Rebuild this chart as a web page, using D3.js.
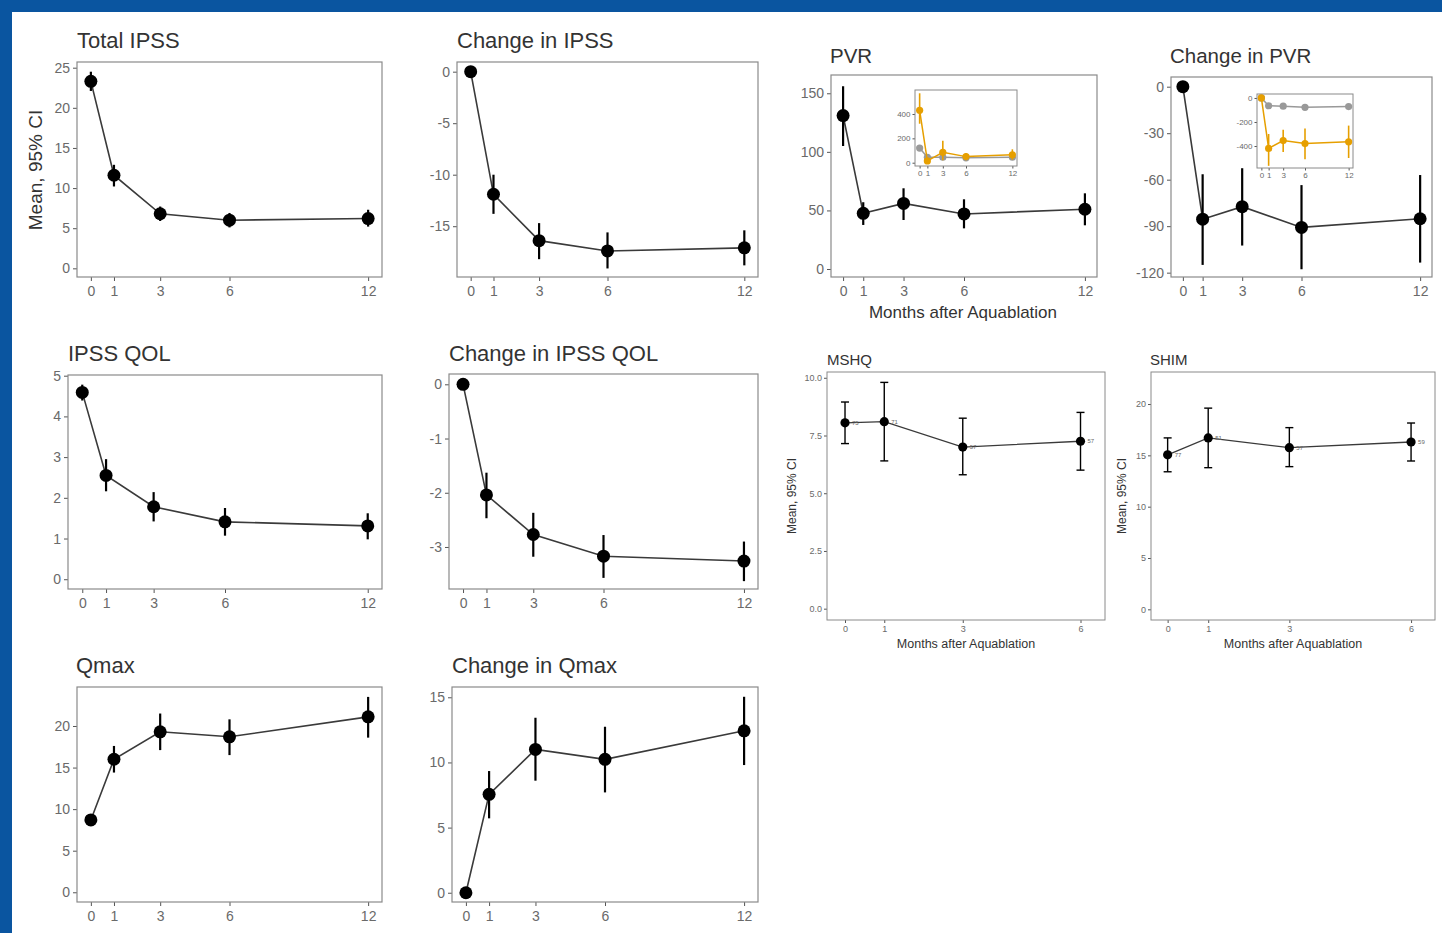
<!DOCTYPE html>
<html>
<head>
<meta charset="utf-8">
<script src="https://cdn.jsdelivr.net/npm/d3@7"></script>
<style>
  html, body { margin: 0; padding: 0; background: #fff; }
  svg { display: block; font-family: "Liberation Sans", Arial, Helvetica, sans-serif; }
</style>
</head>
<body>
<svg id="fig" width="1442" height="933"></svg>
<script>
// Follow-up visits, months after Aquablation
const months = [0, 1, 3, 6, 12];
const sexMonths = [0, 1, 3, 6];

// Total IPSS
const ipssMean = [23.3, 11.6, 6.8, 6.0, 6.2];
const ipssLow  = [22.1, 10.2, 5.9, 5.1, 5.2];
const ipssHigh = [24.5, 12.9, 7.7, 6.9, 7.3];

// Change in IPSS
const dIpssMean = [0, -11.9, -16.4, -17.4, -17.1];
const dIpssLow  = [0, -13.8, -18.2, -19.1, -18.8];
const dIpssHigh = [0, -10.0, -14.7, -15.6, -15.4];

// PVR
const pvrMean = [131, 47.5, 56, 47, 51];
const pvrLow  = [105, 37.6, 41.8, 34.7, 37.3];
const pvrHigh = [156, 57, 68.9, 59.5, 64.6];

// Change in PVR
const dPvrMean = [0, -85.5, -77.4, -90.8, -85.2];
const dPvrLow  = [0, -115, -102.5, -117.8, -113.5];
const dPvrHigh = [0, -56.5, -52.6, -63.5, -57];

// PVR by baseline subgroup (inset): grey and orange groups
const pvrGreyMean   = [120, 45, 45, 40, 45];
const pvrGreyLow    = [100, 35, 35, 30, 33];
const pvrGreyHigh   = [140, 55, 55, 50, 58];
const pvrOrangeMean = [430, 15, 85, 50, 65];
const pvrOrangeLow  = [320, -5, 20, 20, 25];
const pvrOrangeHigh = [570, 35, 180, 80, 110];

// Change in PVR by subgroup (inset)
const dPvrGreyMean   = [0, -65, -68, -78, -72];
const dPvrGreyLow    = [0, -80, -82, -92, -86];
const dPvrGreyHigh   = [0, -50, -54, -64, -58];
const dPvrOrangeMean = [0, -420, -355, -380, -365];
const dPvrOrangeLow  = [0, -565, -450, -510, -500];
const dPvrOrangeHigh = [0, -300, -265, -255, -230];

// IPSS QOL
const qolMean = [4.59, 2.55, 1.78, 1.41, 1.31];
const qolLow  = [4.39, 2.16, 1.42, 1.07, 0.98];
const qolHigh = [4.78, 2.95, 2.14, 1.75, 1.62];

// Change in IPSS QOL
const dQolMean = [0, -2.04, -2.77, -3.17, -3.26];
const dQolLow  = [0, -2.47, -3.18, -3.57, -3.63];
const dQolHigh = [0, -1.63, -2.37, -2.78, -2.90];

// Qmax
const qmaxMean = [8.7, 16.0, 19.3, 18.7, 21.1];
const qmaxLow  = [8.2, 14.4, 17.1, 16.5, 18.6];
const qmaxHigh = [9.2, 17.6, 21.5, 20.8, 23.5];

// Change in Qmax
const dQmaxMean = [0, 7.55, 11.0, 10.24, 12.43];
const dQmaxLow  = [0, 5.71, 8.6, 7.7, 9.8];
const dQmaxHigh = [0, 9.34, 13.43, 12.74, 15.04];

// MSHQ (ejaculatory function) and SHIM (erectile function)
const mshqMean = [8.05, 8.1, 7.0, 7.25];
const mshqLow  = [7.15, 6.4, 5.8, 6.0];
const mshqHigh = [8.95, 9.8, 8.25, 8.5];
const mshqN    = ["75", "71", "57", "57"];
const shimMean = [15.05, 16.7, 15.75, 16.3];
const shimLow  = [13.4, 13.8, 13.9, 14.45];
const shimHigh = [16.7, 19.6, 17.7, 18.15];
const shimN    = ["77", "51", "57", "59"];

// Tick labels
const ipssTicks = [0, 5, 10, 15, 20, 25];
const dIpssTicks = [0, -5, -10, -15];
const pvrTicks = [0, 50, 100, 150];
const dPvrTicks = [0, -30, -60, -90, -120];
const qolTicks = [0, 1, 2, 3, 4, 5];
const dQolTicks = [0, -1, -2, -3];
const qmaxTicks = [0, 5, 10, 15, 20];
const dQmaxTicks = [0, 5, 10, 15];
const mshqTicks = [0, 2.5, 5, 7.5, 10];
const shimTicks = [0, 5, 10, 15, 20];
const pvrInsetTicks = [0, 200, 400];
const dPvrInsetTicks = [0, -200, -400];

const X_LABEL = "Months after Aquablation";
const Y_LABEL = "Mean, 95% CI";
const GREY = "#999999", ORANGE = "#E69F00";

// plain hyphen-minus for negative tick labels
const intFmt = d => String(d);
const oneDecFmt = d => d.toFixed(1);

function series(xs, mean, lo, hi) {
  return xs.map((m, i) => ({ m, v: mean[i], lo: lo[i], hi: hi[i] }));
}

const svg = d3.select("#fig");

// Blue page frame
svg.append("rect").attr("x", 0).attr("y", 0).attr("width", 1442).attr("height", 12).attr("fill", "#0A55A0");
svg.append("rect").attr("x", 0).attr("y", 0).attr("width", 12).attr("height", 933).attr("fill", "#0A55A0");

const MAIN = { tickFont: 14, tickLen: 4, pad: 3, xpad: 5, r: 6.5, bar: 2.2, line: 1.6, titleFont: 22, border: 1.2 };
const SMALL = { tickFont: 9, tickLen: 3, pad: 2, xpad: 3, r: 4.6, bar: 1.4, line: 1.3, titleFont: 15, border: 1, cap: 8 };
const INSET = { tickFont: 8, tickLen: 2.5, pad: 2, xpad: 2, r: 3.6, bar: 1.6, line: 1.5, border: 1 };

function drawAxes(g, x, y, box, st, xTicks, yTicks, yFmt) {
  const ay = g.append("g").attr("transform", `translate(${box[0]},0)`)
    .call(d3.axisLeft(y).tickValues(yTicks).tickSize(st.tickLen).tickPadding(st.pad).tickFormat(yFmt));
  const ax = g.append("g").attr("transform", `translate(0,${box[3]})`)
    .call(d3.axisBottom(x).tickValues(xTicks).tickSize(st.tickLen).tickPadding(st.xpad).tickFormat(intFmt));
  [ay, ax].forEach(a => {
    a.attr("font-family", null).attr("font-size", st.tickFont);
    a.select(".domain").remove();
    a.selectAll(".tick line").attr("stroke", "#555").attr("stroke-width", 1);
    a.selectAll(".tick text").attr("fill", "#6a6a6a");
  });
  g.append("rect").attr("x", box[0]).attr("y", box[1])
    .attr("width", box[2] - box[0]).attr("height", box[3] - box[1])
    .attr("fill", "none").attr("stroke", "#8a8a8a").attr("stroke-width", st.border);
}

function drawSeries(g, x, y, data, st, color, lineColor, cap) {
  g.append("path").datum(data)
    .attr("fill", "none").attr("stroke", lineColor).attr("stroke-width", st.line)
    .attr("d", d3.line().x(d => x(d.m)).y(d => y(d.v)));
  const bars = g.append("g").attr("stroke", color).attr("stroke-width", st.bar);
  data.forEach(d => {
    if (d.hi === d.lo) return;
    bars.append("line").attr("x1", x(d.m)).attr("x2", x(d.m)).attr("y1", y(d.lo)).attr("y2", y(d.hi));
    if (cap) {
      [d.lo, d.hi].forEach(v => bars.append("line")
        .attr("x1", x(d.m) - cap / 2).attr("x2", x(d.m) + cap / 2).attr("y1", y(v)).attr("y2", y(v)));
    }
  });
  g.append("g").selectAll("circle").data(data).join("circle")
    .attr("cx", d => x(d.m)).attr("cy", d => y(d.v)).attr("r", st.r).attr("fill", color);
}

function panel(p) {
  const st = p.style;
  const g = svg.append("g");
  const box = p.box;
  const x = d3.scaleLinear().domain(p.xDomain).range([box[0], box[2]]);
  const y = d3.scaleLinear().domain(p.yDomain).range([box[3], box[1]]);
  drawAxes(g, x, y, box, st, p.xTicks, p.yTicks, p.yFmt || intFmt);

  if (p.inset) {
    const q = p.inset;
    const ib = q.box;
    const ix = d3.scaleLinear().domain(p.xDomain).range([ib[0], ib[2]]);
    const iy = d3.scaleLinear().domain(q.yDomain).range([ib[3], ib[1]]);
    const ig = g.append("g");
    drawAxes(ig, ix, iy, ib, INSET, p.xTicks, q.yTicks, intFmt);
    const clipId = "clip" + Math.round(ib[0]);
    ig.append("clipPath").attr("id", clipId).append("rect")
      .attr("x", ib[0]).attr("y", ib[1]).attr("width", ib[2] - ib[0]).attr("height", ib[3] - ib[1]);
    const inner = ig.append("g").attr("clip-path", `url(#${clipId})`);
    drawSeries(inner, ix, iy, q.grey, INSET, GREY, GREY);
    drawSeries(inner, ix, iy, q.orange, INSET, ORANGE, ORANGE);
  }

  drawSeries(g, x, y, p.data, st, "#000", "#3a3a3a", p.cap ? st.cap : 0);

  if (p.nLabels) {
    g.append("g").selectAll("text").data(p.data).join("text")
      .attr("x", d => x(d.m) + 7).attr("y", d => y(d.v) + 2)
      .attr("font-size", 6).attr("fill", "#666")
      .text((d, i) => p.nLabels[i]);
  }

  g.append("text").attr("x", p.titlePos[0]).attr("y", p.titlePos[1])
    .attr("font-size", p.titleFont || st.titleFont).attr("fill", "#333").text(p.title);

  if (p.xLabel) {
    g.append("text").attr("x", p.xLabel[0]).attr("y", p.xLabel[1]).attr("text-anchor", "middle")
      .attr("font-size", p.xLabel[2]).attr("fill", "#333").text(X_LABEL);
  }
  if (p.yLabel) {
    g.append("text").attr("transform", `translate(${p.yLabel[0]},${p.yLabel[1]}) rotate(-90)`)
      .attr("text-anchor", "middle").attr("font-size", p.yLabel[2]).attr("fill", "#333").text(Y_LABEL);
  }
}

const fullX = [-0.6, 12.6];

const panels = [
  { title: "Total IPSS", style: MAIN, box: [77, 62, 382, 277], titlePos: [77, 48],
    xDomain: fullX, yDomain: [-1.08, 25.71], xTicks: months, yTicks: ipssTicks,
    data: series(months, ipssMean, ipssLow, ipssHigh), yLabel: [42, 170, 19] },
  { title: "Change in IPSS", style: MAIN, box: [457, 62, 758, 277], titlePos: [457, 48],
    xDomain: fullX, yDomain: [-19.93, 0.94], xTicks: months, yTicks: dIpssTicks,
    data: series(months, dIpssMean, dIpssLow, dIpssHigh) },
  { title: "PVR", style: MAIN, titleFont: 20.5, box: [831, 75, 1097, 277], titlePos: [830, 63],
    xDomain: fullX, yDomain: [-6.83, 165.6], xTicks: months, yTicks: pvrTicks,
    data: series(months, pvrMean, pvrLow, pvrHigh), xLabel: [963, 318, 17],
    inset: { box: [915, 90, 1017, 166], yDomain: [-27, 597], yTicks: pvrInsetTicks,
      grey: series(months, pvrGreyMean, pvrGreyLow, pvrGreyHigh),
      orange: series(months, pvrOrangeMean, pvrOrangeLow, pvrOrangeHigh) } },
  { title: "Change in PVR", style: MAIN, titleFont: 20.5, box: [1171, 77, 1432, 277], titlePos: [1170, 63],
    xDomain: fullX, yDomain: [-122.8, 6.26], xTicks: months, yTicks: dPvrTicks,
    data: series(months, dPvrMean, dPvrLow, dPvrHigh),
    inset: { box: [1257, 94, 1353, 168], yDomain: [-583, 33], yTicks: dPvrInsetTicks,
      grey: series(months, dPvrGreyMean, dPvrGreyLow, dPvrGreyHigh),
      orange: series(months, dPvrOrangeMean, dPvrOrangeLow, dPvrOrangeHigh) } },
  { title: "IPSS QOL", style: MAIN, box: [68, 375, 382, 589], titlePos: [68, 361],
    xDomain: fullX, yDomain: [-0.24, 5.017], xTicks: months, yTicks: qolTicks,
    data: series(months, qolMean, qolLow, qolHigh) },
  { title: "Change in IPSS QOL", style: MAIN, box: [449, 374, 758, 589], titlePos: [449, 361],
    xDomain: fullX, yDomain: [-3.775, 0.19], xTicks: months, yTicks: dQolTicks,
    data: series(months, dQolMean, dQolLow, dQolHigh) },
  { title: "Qmax", style: MAIN, box: [77, 687, 382, 902], titlePos: [76, 673],
    xDomain: fullX, yDomain: [-1.17, 24.69], xTicks: months, yTicks: qmaxTicks,
    data: series(months, qmaxMean, qmaxLow, qmaxHigh) },
  { title: "Change in Qmax", style: MAIN, box: [452, 687, 758, 902], titlePos: [452, 673],
    xDomain: fullX, yDomain: [-0.71, 15.79], xTicks: months, yTicks: dQmaxTicks,
    data: series(months, dQmaxMean, dQmaxLow, dQmaxHigh) },
  { title: "MSHQ", style: SMALL, box: [827, 372, 1105, 620], titlePos: [827, 365], cap: true,
    xDomain: [-0.459, 6.624], yDomain: [-0.49, 10.25], xTicks: sexMonths, yTicks: mshqTicks,
    yFmt: oneDecFmt, data: series(sexMonths, mshqMean, mshqLow, mshqHigh), nLabels: mshqN,
    xLabel: [966, 648, 12.5], yLabel: [796, 496, 12] },
  { title: "SHIM", style: SMALL, box: [1151, 372, 1435, 620], titlePos: [1150, 365], cap: true,
    xDomain: [-0.41, 6.59], yDomain: [-1.04, 23.12], xTicks: sexMonths, yTicks: shimTicks,
    data: series(sexMonths, shimMean, shimLow, shimHigh), nLabels: shimN,
    xLabel: [1293, 648, 12.5], yLabel: [1126, 496, 12] }
];

panels.forEach(panel);
</script>
</body>
</html>
